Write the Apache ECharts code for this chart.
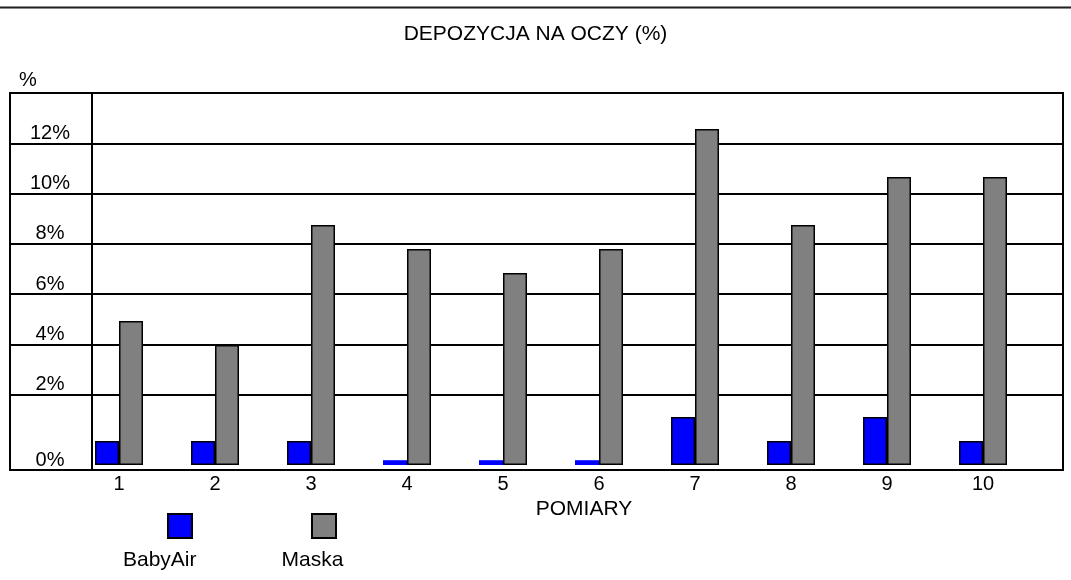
<!DOCTYPE html>
<html>
<head>
<meta charset="utf-8">
<script src="https://cdn.jsdelivr.net/npm/echarts@6/dist/echarts.min.js"></script>
<style>
html,body{margin:0;padding:0;background:#fff;}
#chart{width:1071px;height:580px;}
</style>
</head>
<body>
<div id="chart"></div>
<script>
// ---- data ----
const CATEGORIES = ['1', '2', '3', '4', '5', '6', '7', '8', '9', '10'];
const BABYAIR = [1, 1, 1, 0.2, 0.2, 0.2, 2, 1, 2, 1];
const MASKA = [6, 5, 10, 9, 8, 9, 14, 10, 12, 12];
const SERIES_NAMES = ['BabyAir', 'Maska'];
const GRID_VALUES = [2, 4, 6, 8, 10, 12];
const TICK_LABELS = ['0%', '2%', '4%', '6%', '8%', '10%', '12%'];
const TITLE = 'DEPOZYCJA NA OCZY (%)';
const X_NAME = 'POMIARY';
const Y_NAME = '%';

// ---- chart ----
const FONT = '"Liberation Sans", Arial, sans-serif';
const TABLE_MIN = -1, TABLE_MAX = 14;
const labelValues = [TABLE_MIN].concat(GRID_VALUES);
const labelFor = v => TICK_LABELS[labelValues.indexOf(v)] || '';

const chart = echarts.init(document.getElementById('chart'), null, {renderer: 'canvas'});
const styleItem = (v) => ({value: v, itemStyle: v < 0.5 ? {borderWidth: 0} : {}});

chart.setOption({
  animation: false,
  backgroundColor: '#fff',
  textStyle: {fontFamily: FONT, color: '#000'},
  title: {
    text: TITLE, left: 'center', top: 19,
    textStyle: {fontFamily: FONT, fontSize: 21, fontWeight: 'normal', color: '#000'}
  },
  graphic: [
    {type: 'rect', shape: {x: 0, y: 6, width: 1071, height: 3}, style: {fill: '#8a8a8a'}, silent: true},
    {type: 'rect', shape: {x: 0, y: 7, width: 1071, height: 1}, style: {fill: '#222'}, silent: true}
  ],
  legend: [
    {
      data: SERIES_NAMES, left: 162, top: 508, orient: 'horizontal',
      itemWidth: 24, itemHeight: 24, itemGap: 118, icon: 'rect',
      selectedMode: false, formatter: () => '',
      itemStyle: {borderColor: '#000', borderWidth: 2},
      textStyle: {fontSize: 1}
    },
    {
      data: SERIES_NAMES, left: 113, top: 545, orient: 'horizontal',
      itemWidth: 0, itemHeight: 0, itemGap: 80, icon: 'none',
      selectedMode: false,
      textStyle: {fontFamily: FONT, fontSize: 21, color: '#000'}
    }
  ],
  grid: [
    {left: 71, right: 40, top: 93, bottom: 115, outerBoundsMode: 'none', containLabel: false},
    {left: 10, right: 8, top: 93, bottom: 110, show: true, borderColor: '#000', borderWidth: 2,
     backgroundColor: 'transparent', outerBoundsMode: 'none', containLabel: false}
  ],
  xAxis: [
    {
      type: 'category', gridIndex: 0, data: CATEGORIES,
      axisLine: {show: false}, axisTick: {show: false}, splitLine: {show: false},
      axisLabel: {fontFamily: FONT, fontSize: 20, color: '#000', margin: 9, interval: 0},
      name: X_NAME, nameLocation: 'middle', nameGap: 34,
      nameTextStyle: {fontFamily: FONT, fontSize: 21, color: '#000', padding: [0, 0, 0, 66]}
    },
    {type: 'value', gridIndex: 1, min: 0, max: 1, show: false}
  ],
  yAxis: [
    {type: 'value', gridIndex: 0, min: 0, max: 15.5, show: false, splitLine: {show: false}},
    {
      type: 'value', gridIndex: 1, min: TABLE_MIN, max: TABLE_MAX, position: 'left', offset: -82,
      axisLine: {show: true, lineStyle: {color: '#000', width: 2}},
      axisTick: {show: false, customValues: labelValues},
      splitLine: {show: true, lineStyle: {color: '#000', width: 2}},
      axisLabel: {
        customValues: labelValues, formatter: v => labelFor(v),
        fontFamily: FONT, fontSize: 20, color: '#000', align: 'center', verticalAlign: 'bottom', margin: 42
      },
      name: Y_NAME, nameLocation: 'end', nameGap: 3,
      nameTextStyle: {fontFamily: FONT, fontSize: 20, color: '#000', align: 'center', verticalAlign: 'bottom', padding: [0, 128, 0, 0]}
    }
  ],
  series: [
    {
      name: SERIES_NAMES[0], type: 'bar', xAxisIndex: 0, yAxisIndex: 0,
      data: BABYAIR.map(styleItem), barWidth: 24, barGap: '0%',
      itemStyle: {color: '#0000ff', borderColor: '#000', borderWidth: 1.5}
    },
    {
      name: SERIES_NAMES[1], type: 'bar', xAxisIndex: 0, yAxisIndex: 0,
      data: MASKA.map(styleItem), barWidth: 24, barGap: '0%',
      itemStyle: {color: '#808080', borderColor: '#000', borderWidth: 1.5}
    }
  ]
});
</script>
</body>
</html>
